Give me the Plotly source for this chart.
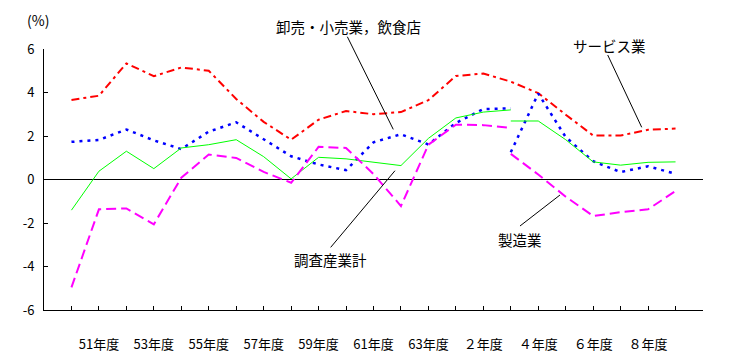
import plotly.graph_objects as go

# Fiscal years: Showa 50 .. Showa 63, Heisei 1 .. Heisei 9
categories = ["50年度", "51年度", "52年度", "53年度", "54年度", "55年度", "56年度",
              "57年度", "58年度", "59年度", "60年度", "61年度", "62年度", "63年度",
              "元年度", "２年度", "３年度", "４年度", "５年度", "６年度", "７年度",
              "８年度", "９年度"]
tick_labels = ["", "51年度", "", "53年度", "", "55年度", "", "57年度", "", "59年度",
               "", "61年度", "", "63年度", "", "２年度", "", "４年度", "", "６年度",
               "", "８年度", ""]

# サービス業 (continuous)
service = [3.66, 3.85, 5.34, 4.75, 5.15, 5.0, 3.7, 2.65, 1.83, 2.75, 3.15, 3.0,
           3.1, 3.65, 4.76, 4.87, 4.5, 3.97, 2.98, 2.02, 2.02, 2.29, 2.34]

# Old basis (50年度 .. ３年度) and new basis (３年度 .. ９年度)
wholesale_old = [1.73, 1.82, 2.3, 1.8, 1.4, 2.2, 2.63, 1.83, 1.07, 0.69, 0.43, 1.71,
                 2.08, 1.61, 2.6, 3.24, 3.27]
wholesale_new = [1.25, 3.95, 1.95, 0.84, 0.34, 0.61, 0.26]

total_old = [-1.41, 0.38, 1.3, 0.5, 1.45, 1.6, 1.83, 1.05, 0.03, 1.02, 0.95, 0.81,
             0.64, 1.89, 2.83, 3.1, 3.2]
total_new = [2.69, 2.69, 1.83, 0.81, 0.66, 0.79, 0.81]

manuf_old = [-4.96, -1.37, -1.33, -2.06, 0.08, 1.15, 0.99, 0.35, -0.15, 1.5, 1.45,
             0.25, -1.22, 1.6, 2.52, 2.5, 2.37]
manuf_new = [1.18, 0.23, -0.79, -1.68, -1.5, -1.37, -0.53]

y_ticks = [-6, -4, -2, 0, 2, 4, 6]
y_tick_text = ["-6", "-4", "-2", "0", "2", "4", "6"]

old_x = categories[:len(total_old)]
new_x = categories[len(total_old) - 1:]

fig = go.Figure()

def add(x, y, color, width, dash):
    fig.add_trace(go.Scatter(x=x, y=y, mode="lines",
                             line=dict(color=color, width=width, dash=dash),
                             showlegend=False, hoverinfo="skip"))

add(categories, service, "#FF0000", 2, "8px,4px,3px,4px")
add(old_x, wholesale_old, "#0000FF", 2.5, "3px,5px")
add(new_x, wholesale_new, "#0000FF", 2.5, "3px,5px")
add(old_x, total_old, "#00FF00", 1, "solid")
add(new_x, total_new, "#00FF00", 1, "solid")
add(old_x, manuf_old, "#FF00FF", 2, "10px,5px")
add(new_x, manuf_new, "#FF00FF", 2, "10px,5px")

font_family = "Noto Sans CJK JP"

annots = [
    dict(text="卸売・小売業，飲食店", x=0.4628, y=1.088),
    dict(text="サービス業", x=0.8574, y=1.0153),
    dict(text="調査産業計", x=0.434, y=0.1916),
    dict(text="製造業", x=0.7223, y=0.272),
]
annotations = [dict(xref="paper", yref="paper", showarrow=False,
                    font=dict(size=14.5, color="black", family=font_family),
                    xanchor="center", yanchor="middle", **a) for a in annots]
annotations.append(dict(text="(%)", xref="paper", yref="paper", x=-0.0091, y=1.111,
                        showarrow=False, xanchor="center", yanchor="middle",
                        font=dict(size=14, color="black", family=font_family)))

leader_lines = [
    (0.4603, 1.047, 0.530, 0.692),
    (0.8554, 0.977, 0.907, 0.700),
    (0.435, 0.240, 0.5326, 0.5337),
    (0.7223, 0.3218, 0.783, 0.4406),
]
shapes = [dict(type="line", xref="paper", yref="paper", x0=a, y0=b, x1=c, y1=d,
               line=dict(color="black", width=1)) for a, b, c, d in leader_lines]

fig.update_layout(
    width=731, height=362,
    margin=dict(l=36, r=36, t=41, b=60),
    paper_bgcolor="white", plot_bgcolor="white",
    font=dict(family=font_family, size=13, color="black"),
    annotations=annotations, shapes=shapes,
)
fig.update_xaxes(type="category", categoryorder="array", categoryarray=categories,
                 range=[-1, 23], tickmode="array", tickvals=categories,
                 ticktext=tick_labels, ticks="inside", ticklen=4, tickcolor="black",
                 showline=True, linecolor="black", linewidth=1, showgrid=False,
                 zeroline=False, ticklabelstandoff=22, tickangle=0,
                 automargin=False, tickfont=dict(size=13))
fig.update_yaxes(range=[-6, 6], tickmode="array", tickvals=y_ticks,
                 ticktext=y_tick_text, ticks="inside", ticklen=4, tickcolor="black",
                 showline=True, linecolor="black", linewidth=1, showgrid=False,
                 zeroline=True, zerolinecolor="black", zerolinewidth=1,
                 ticklabelstandoff=6, automargin=False, tickfont=dict(size=13))

fig.write_html("out.html")
